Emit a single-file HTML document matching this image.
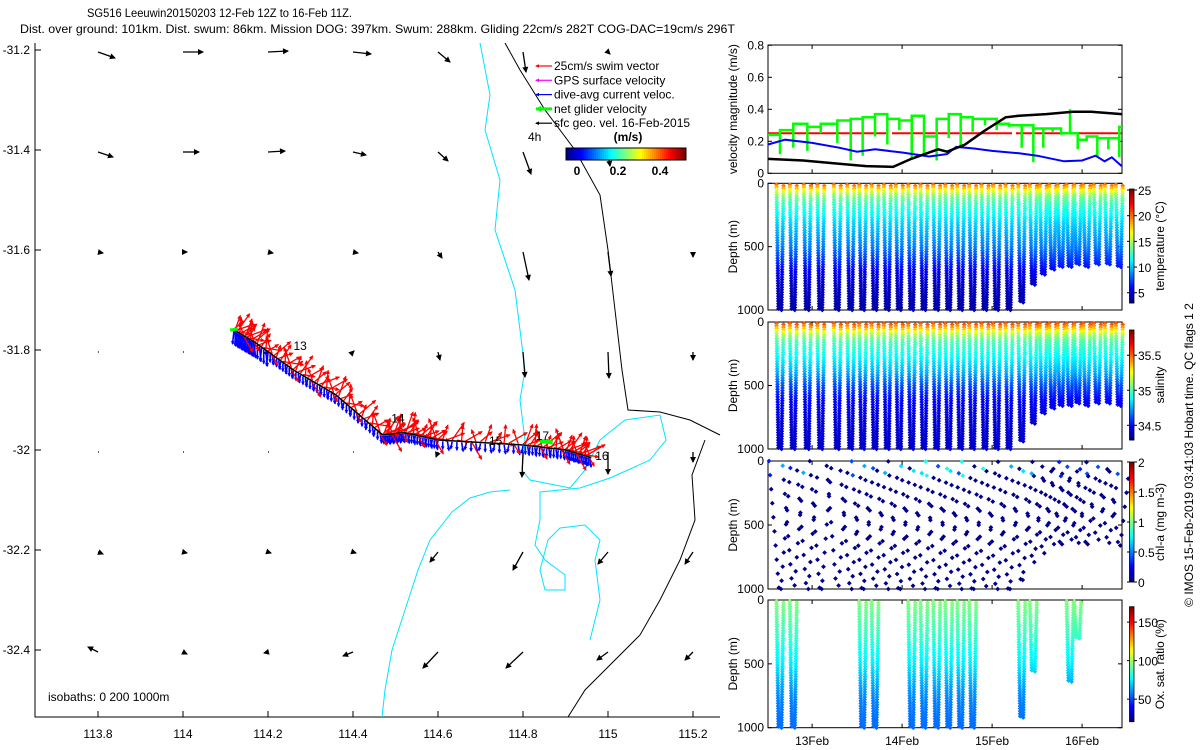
<!DOCTYPE html>
<html><head><meta charset="utf-8">
<style>
html,body{margin:0;padding:0;background:#fff;}
svg{display:block;font-family:"Liberation Sans",sans-serif;}
text{font-size:12px;fill:#000;}
</style></head>
<body>
<svg id="fig" width="1200" height="750" viewBox="0 0 1200 750" xmlns="http://www.w3.org/2000/svg">
<rect width="1200" height="750" fill="#fff"/>
<text x="87" y="17" textLength="265" lengthAdjust="spacingAndGlyphs">SG516 Leeuwin20150203 12-Feb 12Z to 16-Feb 11Z.</text>
<text x="20" y="33" textLength="715" lengthAdjust="spacingAndGlyphs">Dist. over ground: 101km. Dist. swum: 86km. Mission DOG: 397km. Swum: 288km. Gliding 22cm/s 282T COG-DAC=19cm/s 296T</text>
<g id="map"></g>
<g id="right"></g>
<text x="48" y="701">isobaths: 0   200  1000m</text>
<text transform="translate(1193,455) rotate(-90)" text-anchor="middle">© IMOS 15-Feb-2019 03:41:03 Hobart time. QC flags 1  2</text>
</svg>
<script>
// ===== DATA =====
const mapLonTicks=[113.8,114,114.2,114.4,114.6,114.8,115,115.2];
const mapLatTicks=[-31.2,-31.4,-31.6,-31.8,-32,-32.2,-32.4];
const geoU=[
[0.17,0.20,0.20,0.18,0.12,0.03,0.02,0.00],
[0.15,0.16,0.17,0.13,0.10,0.08,0.02,0.00],
[0.05,0.04,0.05,0.05,0.04,0.06,0.03,0.00],
[0.01,0.01,0.01,0.01,0.02,0.02,0.01,0.00],
[0.01,0.01,0.01,0.01,-0.02,-0.01,0.00,0.00],
[0.05,0.04,0.03,0.03,-0.08,-0.10,-0.10,-0.08],
[-0.10,0.04,-0.04,-0.10,-0.15,-0.17,-0.11,-0.08]];
const geoV=[
[-0.06,0.00,0.01,-0.02,-0.10,-0.20,-0.02,0.00],
[-0.05,0.00,0.01,-0.03,-0.09,-0.22,-0.14,0.00],
[-0.01,0.00,-0.01,-0.01,-0.06,-0.28,-0.24,-0.05],
[0.00,0.00,0.01,0.01,-0.08,-0.25,-0.26,-0.08],
[0.00,0.00,0.00,0.00,-0.05,-0.25,-0.22,-0.10],
[-0.02,-0.01,-0.01,-0.01,-0.10,-0.18,-0.12,-0.12],
[0.05,-0.02,-0.01,-0.04,-0.16,-0.16,-0.08,-0.08]];
const trackLon=[114.12,114.17,114.26,114.36,114.47,114.52,114.6,114.8,114.9,114.96];
const trackLat=[-31.76,-31.785,-31.84,-31.89,-31.97,-31.965,-31.98,-31.99,-32.0,-32.015];
const dayLabels=["13","14","15","17","16"];
const dayLon=[114.26,114.49,114.72,114.83,114.97];
const dayLat=[-31.8,-31.945,-31.99,-31.98,-32.02];

const diveT=[12.643,12.791,12.947,13.096,13.280,13.429,13.562,13.699,13.836,13.969,14.107,14.243,14.384,14.518,14.651,14.784,14.921,15.051,15.188,15.329,15.458,15.569,15.673,15.766,15.866,15.951,16.051,16.169,16.291,16.413];
const diveMax=[1000,1000,1000,1000,1000,1000,1000,1000,1000,1000,1000,1000,1000,1000,1000,1000,1000,1000,1000,930,790,720,670,650,650,640,650,630,640,660];
const geoVelT=[12.51,12.9,13.3,13.6,13.9,14.1,14.4,14.5,14.7,14.9,15.15,15.3,15.6,15.9,16.1,16.44];
const geoVel=[0.09,0.08,0.06,0.045,0.04,0.09,0.15,0.135,0.18,0.26,0.35,0.36,0.37,0.385,0.385,0.37];
const dacT=[12.51,12.7,13.0,13.3,13.5,13.7,14.0,14.3,14.5,14.6,14.8,15.0,15.3,15.5,15.8,16.0,16.15,16.25,16.33,16.44];
const dacVel=[0.18,0.21,0.19,0.16,0.135,0.15,0.13,0.105,0.12,0.165,0.155,0.14,0.125,0.11,0.075,0.08,0.11,0.075,0.1,0.045];
const swimVel=0.25;
const netLevel=[0.27,0.31,0.29,0.31,0.33,0.34,0.35,0.37,0.34,0.33,0.36,0.23,0.34,0.37,0.35,0.34,0.34,0.31,0.30,0.30,0.28,0.28,0.28,0.25,0.25,0.21,0.23,0.22,0.22,0.29];
const netDip=[0.12,0.16,0.14,0.25,0.19,0.08,0.11,0.23,0.18,0.27,0.09,0.12,0.08,0.22,0.17,0.26,0.30,0.27,0.29,0.16,0.07,0.16,0.26,0.24,0.40,0.15,0.20,0.10,0.15,0.10];
const profDepth=[0,50,100,150,200,300,400,500,600,700,800,1000];
const profTemp=[20.5,17,14,12.8,12,10.5,9.5,8.5,7,5.5,4.5,3.8];
const profSal=[35.58,35.35,35.12,35.0,34.95,34.85,34.75,34.6,34.5,34.45,34.42,34.4];
const profOxy=[97,94,92,90,88,84,78,74,68,62,58,55];
const chlSurf=[0.3,0.6,0,0,0,0,0.4,0.6,0,0,0.7,0.7,0.8,0.4,0.7,0.8,0,0,0,0.6,0.7,0,0,0,0.3,0.4,0,0,0.4,0];
const oxyDives=[0,1,6,7,10,11,12,13,14,15,19,20,24,25];
const oxyMax=[1000,1000,1000,1000,1000,1000,1000,1000,1000,1000,920,560,640,300];

// ===== HELPERS =====
const NS="http://www.w3.org/2000/svg";
function mk(tag,attrs,parent){const e=document.createElementNS(NS,tag);for(const k in attrs)e.setAttribute(k,attrs[k]);parent.appendChild(e);return e;}
function jet(t){t=Math.max(0,Math.min(1,t));const c=v=>Math.round(255*Math.max(0,Math.min(1,v)));
return `rgb(${c(1.5-Math.abs(4*t-3))},${c(1.5-Math.abs(4*t-2))},${c(1.5-Math.abs(4*t-1))})`;}
function interp(xs,ys,x){if(x<=xs[0])return ys[0];for(let i=1;i<xs.length;i++){if(x<=xs[i]){const f=(x-xs[i-1])/(xs[i]-xs[i-1]);return ys[i-1]+f*(ys[i]-ys[i-1]);}}return ys[ys.length-1];}

// ===== MAP =====
const map=document.getElementById('map');
const mx=lon=>98+(lon-113.8)*425;
const my=lat=>50+(-31.2-lat)*500;
const axL=mk('path',{d:'M35,43 V717 H720',stroke:'#000',fill:'none','stroke-width':1},map);


mapLatTicks.forEach(v=>{
 const t=mk('line',{x1:35,x2:41,y1:my(v),y2:my(v),stroke:'#000'},map);
 
 
 const l=mk('text',{x:30,y:my(v)+4,'text-anchor':'end'},map);l.textContent=String(v);
 
 
});
mapLonTicks.forEach(v=>{
 const t=mk('line',{x1:mx(v),x2:mx(v),y1:717,y2:711,stroke:'#000'},map);
 
 
 const l=mk('text',{x:mx(v),y:738,'text-anchor':'middle'},map);l.textContent=String(v);
 
 
});
// isobaths
const iso200=['M480,43 L490,95 L485,130 L500,180 L495,230 L515,290 L520,330 L525,370 L520,400 L525,440 L522,470 L530,480 L570,488 L585,470 L600,440 L625,420 L660,415 L666,440 L650,460 L610,478 L580,488 L540,492 L540,520 L535,545 L545,560 L565,575 L565,590 L545,590 L540,570 L548,540 L560,528 L585,525 L600,540 L595,560 L600,600 L590,640',
'M382,717 L385,690 L392,650 L405,610 L418,570 L430,540 L452,512 L470,498 L490,492 L510,490'];
iso200.forEach(d=>{const p=mk('path',{d,stroke:'#00e5ff',fill:'none','stroke-width':1},map);
 
 });
const iso1000=['M505,43 L520,70 L545,110 L575,150 L600,195 L608,250 L615,310 L622,370 L628,410 L660,412 L690,420 L720,435',
'M705,440 L692,475 L695,520 L680,560 L660,600 L640,635 L605,670 L585,690 L568,717'];
iso1000.forEach(d=>{const p=mk('path',{d,stroke:'#000',fill:'none','stroke-width':1},map);
 
 });

function arrow(parent,x,y,dx,dy,col,w,hs){
 const L=Math.hypot(dx,dy);const g=mk('g',{},parent);
 mk('line',{x1:x,y1:y,x2:x+dx,y2:y+dy,stroke:col,'stroke-width':w},g);
 if(L>1){const ux=dx/L,uy=dy/L;const ex=x+dx,ey=y+dy;
  mk('path',{d:`M${ex+ux*1},${ey+uy*1} L${ex-ux*hs-uy*hs*0.6},${ey-uy*hs+ux*hs*0.6} L${ex-ux*hs+uy*hs*0.6},${ey-uy*hs-ux*hs*0.6}Z`,fill:col},g);}
 return g;}
const SC=100;
mapLatTicks.forEach((lat,r)=>{mapLonTicks.forEach((lon,c)=>{
 const a=arrow(map,mx(lon),my(lat)+2,geoU[r][c]*SC,-geoV[r][c]*SC,'#000',1.3,5);
 
 
});});
// glider track
const trk=mk('g',{},map);


function trackPts(n){const pts=[];for(let i=0;i<trackLon.length-1;i++){for(let k=0;k<n;k++){const f=k/n;pts.push([mx(trackLon[i]+f*(trackLon[i+1]-trackLon[i])),my(trackLat[i]+f*(trackLat[i+1]-trackLat[i]))]);}}return pts;}
const pts=trackPts(18);
pts.forEach((p,i)=>{const b=arrow(trk,p[0],p[1]+1,(i%3-1)*1.5,(i<25?13:7)+(i%3),'#0000ff',1.6,3);
 
 });
pts.forEach((p,i)=>{const ang=[-40,-70,-20,-55,10,-85,-30,60,-110][i%9]*Math.PI/180;const L=12+(i%4)*3;
 const r=arrow(trk,p[0],p[1]-1,L*Math.cos(ang),L*Math.sin(ang),'#ff0000',1.3,3.5);
 
 });
const tl=mk('polyline',{points:trackLon.map((v,i)=>mx(v)+','+my(trackLat[i])).join(' '),stroke:'#000',fill:'none','stroke-width':1.5},trk);


const gs=mk('line',{x1:mx(114.12)-4,y1:my(-31.76),x2:mx(114.12)+4,y2:my(-31.76)-1,stroke:'#00ff00','stroke-width':3},trk);


const ge=mk('line',{x1:mx(114.84),y1:my(-31.982),x2:mx(114.87),y2:my(-31.985),stroke:'#00ff00','stroke-width':4},trk);


dayLabels.forEach((s,i)=>{const t=mk('text',{x:mx(dayLon[i]),y:my(dayLat[i])},map);t.textContent=s;
 
 });
// legend
const leg=mk('g',{},map);


const legItems=[['25cm/s swim vector','#ff0000',1.2],['GPS surface velocity','#ff00ff',1.2],['dive-avg current veloc.','#0000ff',1.2],['net glider velocity','#00ff00',3],['sfc geo. vel. 16-Feb-2015','#000',1.2]];
legItems.forEach((it,i)=>{const y=66+i*14.3;
 const a=arrow(leg,552,y,-16,0,it[1],it[2],it[2]>2?5:3);
 
 
 const t=mk('text',{x:554,y:y+4},leg);t.textContent=it[0];
 
 });
const t4=mk('text',{x:528,y:141},leg);t4.textContent='4h';


const tu=mk('text',{x:628,y:141,'text-anchor':'middle','font-weight':'bold'},leg);tu.textContent='(m/s)';


for(let i=0;i<60;i++){const r=mk('rect',{x:566+i*2,y:148,width:2.2,height:12,fill:jet(i/59)},leg);
 
 }
const cbf=mk('rect',{x:566,y:148,width:120,height:12,fill:'none',stroke:'#000'},leg);


[['0',577],['0.2',618],['0.4',660]].forEach(a=>{const t=mk('text',{x:a[1],y:175,'text-anchor':'middle','font-weight':'bold'},leg);t.textContent=a[0];
 
 });

// ===== RIGHT PANELS =====
const R=document.getElementById('right');
const X0=768,X1=1122;
const tx=t=>X0+(t-12.51)*90;
const dayTicks=[13,14,15,16];
const dayTickLabels=['13Feb','14Feb','15Feb','16Feb'];
function panel(name,y0,y1,yticks,ylabels,yv,ytitle){
 const g=mk('g',{},R);
 
 
 const fr=mk('rect',{x:X0,y:y0,width:X1-X0,height:y1-y0,fill:'none',stroke:'#000'},g);
 
 
 yticks.forEach((v,i)=>{const y=yv(v);
  mk('line',{x1:X0,x2:X0+4,y1:y,y2:y,stroke:'#000'},g);
  mk('line',{x1:X1,x2:X1-4,y1:y,y2:y,stroke:'#000'},g);
  const t=mk('text',{x:X0-4,y:y+4,'text-anchor':'end'},g);t.textContent=ylabels[i];
  
  });
 dayTicks.forEach(d=>{mk('line',{x1:tx(d),x2:tx(d),y1:y1,y2:y1-4,stroke:'#000'},g);mk('line',{x1:tx(d),x2:tx(d),y1:y0,y2:y0+4,stroke:'#000'},g);});
 const tt=mk('text',{transform:`translate(737,${(y0+y1)/2}) rotate(-90)`,'text-anchor':'middle'},g);tt.textContent=ytitle;
 
 
 return g;}
// velocity panel
const vy=v=>173.3-v*160;
const vg=panel('velocity-panel',45,173.3,[0,0.2,0.4,0.6,0.8],['0','0.2','0.4','0.6','0.8'],vy,'velocity magnitude (m/s)');
const sw=mk('line',{x1:X0,x2:X1,y1:vy(swimVel),y2:vy(swimVel),stroke:'#ff0000','stroke-width':2,'stroke-dasharray':'120 4'},vg);


let nd=`M${X0},${vy(0.24)}`;
diveT.forEach((t,i)=>{const x=tx(t);nd+=` H${x} V${vy(netDip[i])} V${vy(netLevel[i])}`;});
nd+=` H${X1}`;
const nl=mk('path',{d:nd,stroke:'#00ff00',fill:'none','stroke-width':2.5},vg);


const dl=mk('polyline',{points:dacT.map((t,i)=>tx(t)+','+vy(dacVel[i])).join(' '),stroke:'#0000ff',fill:'none','stroke-width':2},vg);


const gl=mk('polyline',{points:geoVelT.map((t,i)=>tx(t)+','+vy(geoVel[i])).join(' '),stroke:'#000',fill:'none','stroke-width':2.5},vg);



function depthPanel(name,y0,y1){
 const dy=d=>y0+d/1000*(y1-y0);
 const g=panel(name,y0,y1,[0,500,1000],['0','500','1000'],dy,'Depth (m)');
 return [g,dy];}
function diamond(g,x,y,col,nm){const p=mk('path',{d:`M${x.toFixed(1)},${(y-2.4).toFixed(1)}l2.4,2.4l-2.4,2.4l-2.4,-2.4z`,fill:col},g);
 
 }
function colorbar(name,y0,y1,vmin,vmax,ticks,labels,title){
 const g=mk('g',{},R);
 
 
 const n=50,h=(y1-y0)/n;
 for(let i=0;i<n;i++){const r=mk('rect',{x:1129.5,y:y1-(i+1)*h,width:4.5,height:h+0.3,fill:jet(i/(n-1))},g);
  
  }
 mk('rect',{x:1129.5,y:y0,width:4.5,height:y1-y0,fill:'none',stroke:'#000','stroke-width':0.8},g);
 ticks.forEach((v,i)=>{const y=y1-(v-vmin)/(vmax-vmin)*(y1-y0);
  mk('line',{x1:1134,x2:1137,y1:y,y2:y,stroke:'#000'},g);mk('line',{x1:1127,x2:1130,y1:y,y2:y,stroke:'#000'},g);
  const t=mk('text',{x:1138,y:y+5},g);t.textContent=labels[i];
  
  });
 const t=mk('text',{transform:`translate(1164,${(y0+y1)/2}) rotate(-90)`,'text-anchor':'middle'},g);t.textContent=title;
 
 }
function drawProfiles(g,dy,dives,maxes,prof,vmin,vmax,nm,step,width){
 dives.forEach((di,k)=>{const xc=tx(diveT[di]);const M=maxes[k];
  for(let d=10;d<=M;d+=step){const f=1-d/M;const c=jet((interp(profDepth,prof,d)-vmin)/(vmax-vmin));
   diamond(g,xc-1.5-width*f,dy(d),c,nm);diamond(g,xc+1.5+width*f,dy(d+step/2),c,nm);}});}
const allDives=diveT.map((t,i)=>i);
// temperature
const [tg,tdy]=depthPanel('temperature-panel',183.3,310);
drawProfiles(tg,tdy,allDives,diveMax,profTemp,3,25.2,'temperature-point',20,2);
colorbar('temperature-colorbar',189,303,3,25.2,[5,10,15,20,25],['5','10','15','20','25'],'temperature (°C)');
// salinity
const [sg,sdy]=depthPanel('salinity-panel',322,449);
drawProfiles(sg,sdy,allDives,diveMax,profSal,34.29,35.86,'salinity-point',20,2);
colorbar('salinity-colorbar',330,440,34.29,35.86,[34.5,35,35.5],['34.5','35','35.5'],'salinity');
// chl
const [cg,cdy]=depthPanel('chl-panel',461,589);
allDives.forEach(i=>{const xc=tx(diveT[i]);const M=diveMax[i];const off=(i*37)%110;
 for(let d=off;d<=M;d+=110){const f=1-d/M;
  diamond(cg,xc-10*f-1,cdy(d),jet((d<120?chlSurf[i]:0.02)/2),'chl-point');
  const d2=Math.min(M,d+55);diamond(cg,xc+10*(1-d2/M)+1,cdy(d2),jet((d2<120?chlSurf[i]:0.02)/2),'chl-point');}});
colorbar('chl-colorbar',462,582,0,2,[0,0.5,1,1.5,2],['0','0.5','1','1.5','2'],'chl-a (mg m-3)');
// oxygen
const [og,ody]=depthPanel('oxygen-panel',600,727.7);
drawProfiles(og,ody,oxyDives,oxyMax,profOxy,20.7,170,'oxygen-point',20,2);
colorbar('oxygen-colorbar',606.7,721.7,20.7,170,[50,100,150],['50','100','150'],'Ox. sat. ratio (%)');
dayTicks.forEach((d,i)=>{const t=mk('text',{x:tx(d),y:745,'text-anchor':'middle'},R);t.textContent=dayTickLabels[i];
 
 });
</script>
</body></html>
